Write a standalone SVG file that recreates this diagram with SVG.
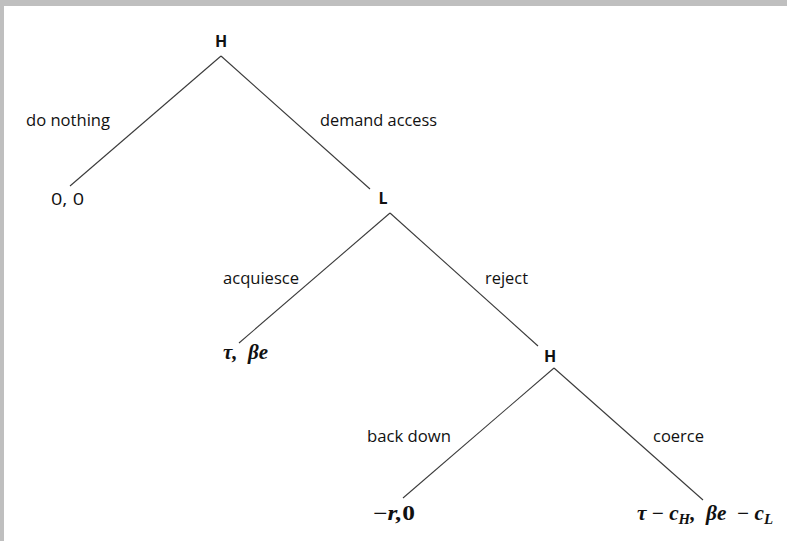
<svg xmlns="http://www.w3.org/2000/svg" width="787" height="541" viewBox="0 0 787 541">
<style>
.bg{fill:#ffffff}
.frame{fill:#bfbfbf}
.edge{stroke:#3a3a3a;stroke-width:1.1;fill:none}
.node{font-family:"Open Sans","Liberation Sans",sans-serif;font-weight:bold;font-size:16px;fill:#111;text-anchor:middle}
.lab{font-family:"Open Sans","Liberation Sans",sans-serif;font-size:16px;fill:#111}
.math{font-family:"Liberation Serif","DejaVu Serif",serif;font-size:20px;fill:#111;font-style:italic;font-weight:bold}
.up{font-style:normal}
.sub{font-size:14px}
</style>
<rect class="frame" x="0" y="0" width="787" height="541"/>
<rect class="bg" x="4" y="6" width="783" height="535"/>
<g id="connectors">
<line class="edge" x1="221" y1="56" x2="70" y2="186"/>
<line class="edge" x1="221" y1="56" x2="370" y2="189"/>
<line class="edge" x1="390" y1="213" x2="239" y2="343"/>
<line class="edge" x1="390" y1="213" x2="538" y2="346"/>
<line class="edge" x1="554" y1="368" x2="403" y2="498"/>
<line class="edge" x1="554" y1="368" x2="703" y2="500"/>
</g>
<g id="node-H1"><text class="node" x="221" y="47">H</text></g>
<g id="node-L"><text class="node" x="383" y="204">L</text></g>
<g id="node-H2"><text class="node" x="550" y="362">H</text></g>
<g id="labels">
<text class="lab" x="26" y="126" textLength="84" lengthAdjust="spacingAndGlyphs">do nothing</text>
<text class="lab" x="320" y="126" textLength="117" lengthAdjust="spacingAndGlyphs">demand access</text>
<text class="lab" x="223" y="284" textLength="76" lengthAdjust="spacingAndGlyphs">acquiesce</text>
<text class="lab" x="485" y="284" textLength="43" lengthAdjust="spacingAndGlyphs">reject</text>
<text class="lab" x="367" y="442" textLength="84" lengthAdjust="spacingAndGlyphs">back down</text>
<text class="lab" x="653" y="442" textLength="51" lengthAdjust="spacingAndGlyphs">coerce</text>
</g>
<g id="payoff-1"><text class="lab" x="51" y="205" textLength="33" lengthAdjust="spacingAndGlyphs">0, 0</text></g>
<g id="payoff-2"><text class="math" x="223" y="359" xml:space="preserve" textLength="45" lengthAdjust="spacingAndGlyphs">τ,  βe</text></g>
<g id="payoff-3"><text class="math" x="373" y="520" textLength="42" lengthAdjust="spacingAndGlyphs"><tspan class="up">−</tspan>r,<tspan class="up">0</tspan></text></g>
<g id="payoff-4"><text class="math" x="637" y="520" xml:space="preserve" textLength="136" lengthAdjust="spacingAndGlyphs">τ <tspan class="up">−</tspan> c<tspan class="sub" dy="4">H</tspan><tspan dy="-4">,  βe  </tspan><tspan class="up">−</tspan> c<tspan class="sub" dy="4">L</tspan></text></g>
</svg>
